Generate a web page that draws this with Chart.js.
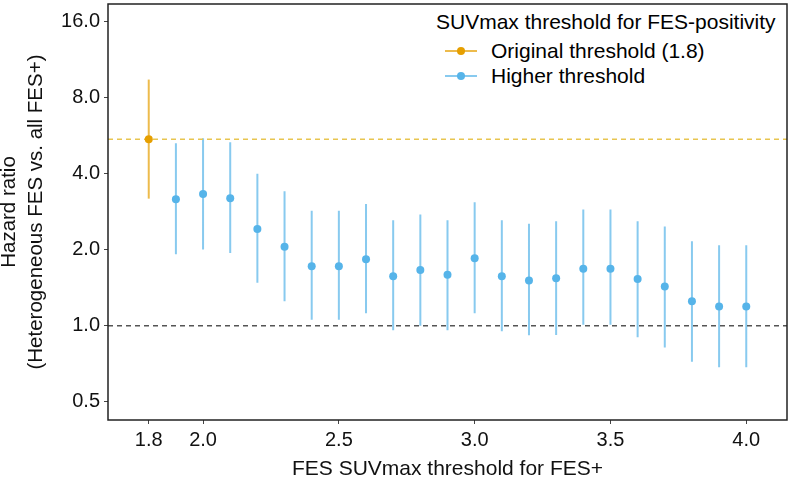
<!DOCTYPE html>
<html>
<head>
<meta charset="utf-8">
<script src="https://cdn.jsdelivr.net/npm/chart.js@4.4.1/dist/chart.umd.min.js"></script>
<style>
  body { margin: 0; background: #fff; }
  #wrap { position: relative; width: 791px; height: 484px; }
  #leyenda {
    position: absolute; left: 433px; top: 8px; background: #fff;
    font-family: "Liberation Sans", Arial, sans-serif; font-size: 21px; color: #000;
    padding: 0 3px;
  }
  .fila { display: flex; align-items: center; height: 25px; }
  .clave { position: relative; width: 32px; height: 2px; margin: 0 14px 0 9px; }
  .clave span { position: absolute; left: 12px; top: -3px; width: 8px; height: 8px; border-radius: 50%; }
</style>
</head>
<body>
<div id="wrap">
  <canvas id="grafico" width="791" height="484"></canvas>
  <div id="leyenda">
    <div style="height:30px;line-height:28px">SUVmax threshold for FES-positivity</div>
    <div class="fila"><div class="clave" style="background:#EDBB4C"><span style="background:#E69F00"></span></div>Original threshold (1.8)</div>
    <div class="fila"><div class="clave" style="background:#88CAEF"><span style="background:#56B4E9"></span></div>Higher threshold</div>
  </div>
</div>
<script>
// datos
const umbrales = [1.8, 1.9, 2.0, 2.1, 2.2, 2.3, 2.4, 2.5, 2.6, 2.7, 2.8, 2.9, 3.0, 3.1, 3.2, 3.3, 3.4, 3.5, 3.6, 3.7, 3.8, 3.9, 4.0];
const hr =      [5.46, 3.16, 3.32, 3.19, 2.41, 2.05, 1.72, 1.72, 1.83, 1.57, 1.66, 1.59, 1.85, 1.57, 1.51, 1.54, 1.68, 1.68, 1.53, 1.43, 1.25, 1.19, 1.19];
const inferior = [3.18, 1.915, 2.0, 1.94, 1.48, 1.25, 1.055, 1.055, 1.12, 0.96, 1.0, 0.96, 1.12, 0.95, 0.916, 0.92, 1.01, 1.01, 0.90, 0.82, 0.72, 0.685, 0.685];
const superior = [9.40, 5.26, 5.51, 5.31, 3.99, 3.40, 2.85, 2.85, 3.03, 2.61, 2.75, 2.61, 3.08, 2.61, 2.53, 2.59, 2.88, 2.88, 2.59, 2.47, 2.16, 2.08, 2.08];
const ticksX = [1.8, 2.0, 2.5, 3.0, 3.5, 4.0];
const ticksY = [0.5, 1, 2, 4, 8, 16];
const xMin = 1.65, xMax = 4.15;
const yMin = 0.424, yMax = 18.7;

const naranja = '#E69F00';
const celeste = '#56B4E9';

// arma los segmentos de intervalo (null corta la linea)
function intervalos(desde, hasta) {
    let out = [];
    for (let i = desde; i < hasta; i++) {
        out.push({x: umbrales[i], y: inferior[i]});
        out.push({x: umbrales[i], y: superior[i]});
        out.push({x: umbrales[i], y: null});
    }
    return out;
}
function puntos(desde, hasta) {
    let out = [];
    for (let i = desde; i < hasta; i++) out.push({x: umbrales[i], y: hr[i]});
    return out;
}

const marco = {
    id: 'marco',
    afterDraw(chart) {
        const {ctx, chartArea: a} = chart;
        ctx.save();
        ctx.strokeStyle = '#222';
        ctx.lineWidth = 1.5;
        ctx.strokeRect(a.left, a.top, a.right - a.left, a.bottom - a.top);
        ctx.restore();
    }
};

const familia = '"Liberation Sans", Arial, sans-serif';
const fuenteTicks = {family: familia, size: 20};
const fuenteTitulo = {family: familia, size: 21};

function sinPadding(s) {
    s.paddingTop = 0; s.paddingBottom = 0; s.paddingLeft = 0; s.paddingRight = 0;
}

new Chart(document.getElementById('grafico'), {
    type: 'line',
    data: {
        datasets: [
            // order: menor = arriba
            {order: 1, data: [{x: xMin, y: hr[0]}, {x: xMax, y: hr[0]}], borderColor: '#E8C550', borderWidth: 1.5, borderDash: [5, 4], pointRadius: 0},
            {order: 1, data: [{x: xMin, y: 1}, {x: xMax, y: 1}], borderColor: '#555', borderWidth: 1.5, borderDash: [5, 4], pointRadius: 0},
            {order: 2, data: intervalos(0, 1), borderColor: '#EDBB4C', borderWidth: 2, pointRadius: 0, spanGaps: false},
            {order: 2, data: intervalos(1, umbrales.length), borderColor: '#88CAEF', borderWidth: 2, pointRadius: 0, spanGaps: false},
            {order: 0, data: puntos(0, 1), showLine: false, pointRadius: 4, pointBackgroundColor: naranja, pointBorderWidth: 0},
            {order: 0, data: puntos(1, umbrales.length), showLine: false, pointRadius: 4, pointBackgroundColor: celeste, pointBorderWidth: 0}
        ]
    },
    options: {
        responsive: false,
        animation: false,
        events: [],
        layout: {padding: {top: 1, right: 1, left: 0, bottom: 0}},
        plugins: {legend: {display: false}, tooltip: {enabled: false}},
        scales: {
            x: {
                type: 'linear', min: xMin, max: xMax,
                afterBuildTicks: s => { s.ticks = ticksX.map(v => ({value: v})); },
                afterFit: s => { s.height = 64; sinPadding(s); },
                ticks: {callback: v => v.toFixed(1), color: '#111', font: fuenteTicks, padding: 4, maxRotation: 0},
                grid: {drawOnChartArea: false, tickColor: '#444', tickLength: 4},
                border: {display: false},
                title: {display: true, text: 'FES SUVmax threshold for FES+', color: '#111', font: fuenteTitulo, padding: {top: 0, bottom: 2}}
            },
            y: {
                type: 'logarithmic', min: yMin, max: yMax,
                afterBuildTicks: s => { s.ticks = ticksY.map(v => ({value: v})); },
                afterFit: s => { s.width = 108; sinPadding(s); },
                ticks: {callback: v => Number(v).toFixed(1), color: '#111', font: fuenteTicks, padding: 4},
                grid: {drawOnChartArea: false, tickColor: '#444', tickLength: 4},
                border: {display: false},
                title: {display: true, text: ['Hazard ratio', '(Heterogeneous FES vs. all FES+)'], color: '#111',
                        font: {family: familia, size: 20.5, lineHeight: 1.3}, padding: {top: -4, bottom: 0}}
            }
        }
    },
    plugins: [marco]
});
</script>
</body>
</html>
